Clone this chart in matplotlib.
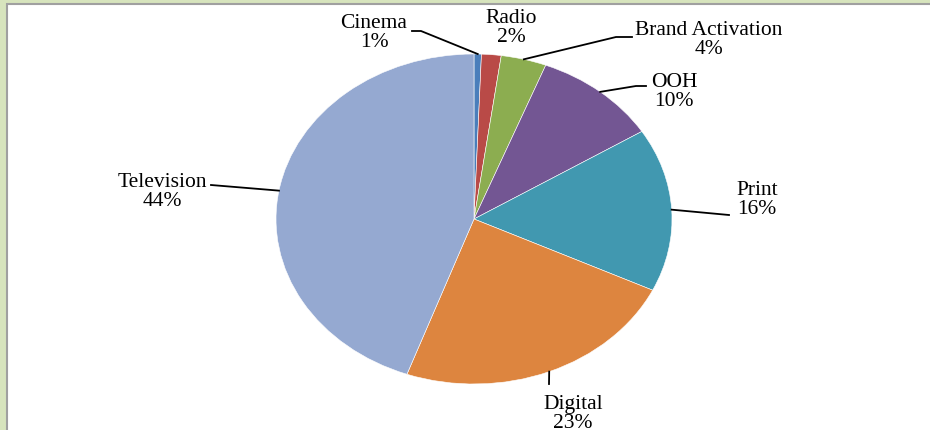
import matplotlib.pyplot as plt
from matplotlib.patches import Rectangle
import numpy as np

categories = ['Cinema', 'Radio', 'Brand Activation', 'OOH', 'Print', 'Digital', 'Television']
shares = [0.6, 1.6, 3.7, 10.2, 16.0, 23.4, 44.5]
pct_labels = ['1%', '2%', '4%', '10%', '16%', '23%', '44%']
colors = ['#4a7ebb', '#b94a47', '#8cad50', '#735693', '#4198b0', '#dd853f', '#95a9d1']

W, H = 930, 431
# pie ellipse in pixels: centre and radii (picture is stretched horizontally)
cx, cy, rx, ry = 474, 220, 198, 165


def to_data(px, py):
    return (px - cx) / rx, (cy - py) / ry


# label centre and leader line points (pixels) for each category
label_pos = {
    'Cinema': ((374, 33), [(421, 32), (412, 32)]),
    'Radio': ((511, 28), []),
    'Brand Activation': ((709, 40), [(616, 38), (632, 38)]),
    'OOH': ((674, 92), [(636, 87), (646, 87)]),
    'Print': ((757, 200), [(729, 216)]),
    'Digital': ((573, 414), [(549, 385)]),
    'Television': ((162, 192), [(211, 186)]),
}

fig = plt.figure(figsize=(W / 100, H / 100), dpi=100)
fig.patch.set_facecolor('#d7e4bd')
fig.patches.append(Rectangle((7 / W, -0.01), 1.05, 1.01 - 5 / H, transform=fig.transFigure,
                             facecolor='white', edgecolor='#a0a0a0', linewidth=1.5, zorder=-10))

ax = fig.add_axes([(cx - rx) / W, (H - cy - ry) / H, 2 * rx / W, 2 * ry / H])
wedges, _ = ax.pie(shares, colors=colors, startangle=90, counterclock=False,
                   wedgeprops=dict(edgecolor='white', linewidth=0.4))
ax.set_aspect('auto')
ax.set_xlim(-1, 1)
ax.set_ylim(-1, 1)
ax.axis('off')

font = dict(family='Liberation Serif', size=15.5)
for w, cat, pct in zip(wedges, categories, pct_labels):
    mid = np.deg2rad((w.theta1 + w.theta2) / 2)
    anchor = (np.cos(mid), np.sin(mid))
    (tx, ty), pts = label_pos[cat]
    if pts:
        xs = [anchor[0]] + [to_data(*p)[0] for p in pts]
        ys = [anchor[1]] + [to_data(*p)[1] for p in pts]
        ax.plot(xs, ys, color='black', linewidth=1.3, clip_on=False)
    x, y = to_data(tx, ty)
    ax.text(x, y, cat + '\n' + pct, ha='center', va='center', linespacing=0.95,
            clip_on=False, **font)

fig.savefig('out.png', dpi=100, facecolor=fig.get_facecolor())
